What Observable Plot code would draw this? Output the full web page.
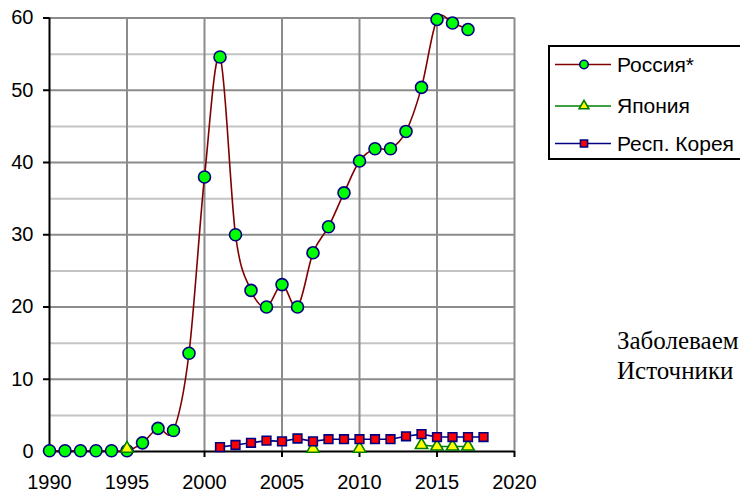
<!DOCTYPE html>
<html><head><meta charset="utf-8">
<script src="https://cdn.jsdelivr.net/npm/d3@7"></script>
<script src="https://cdn.jsdelivr.net/npm/@observablehq/plot@0.6"></script>
<style>
html,body{margin:0;padding:0;background:#fff;overflow:hidden;width:740px;height:494px}
#wrap{position:relative;width:740px;height:494px;overflow:hidden}
#wrap svg{display:block}
#legend{position:absolute;left:548px;top:45px;width:260px;height:115px;border:2px solid #000;background:#fff;box-sizing:border-box}
.note{position:absolute;left:617px;font-family:"Liberation Serif","Times New Roman",serif;font-size:25px;white-space:nowrap;color:#000;line-height:30px}
</style></head><body><div id="wrap"></div>
<script>
const russiaYears = [1990,1991,1992,1993,1994,1995,1996,1997,1998,1999,2000,2001,2002,2003,2004,2005,2006,2007,2008,2009,2010,2011,2012,2013,2014,2015,2016,2017];
const russiaValues = [0.1,0.1,0.1,0.1,0.1,0.1,1.2,3.2,2.9,13.6,38.0,54.6,30.0,22.3,20.0,23.1,20.0,27.5,31.1,35.8,40.2,41.9,41.9,44.3,50.4,59.8,59.3,58.4];
const japanYears = [1995,2007,2010,2014,2015,2016,2017];
const japanValues = [0.4,0.4,0.4,0.9,0.7,0.7,0.7];
const koreaYears = [2001,2002,2003,2004,2005,2006,2007,2008,2009,2010,2011,2012,2013,2014,2015,2016,2017,2018];
const koreaValues = [0.6,0.9,1.2,1.5,1.4,1.8,1.4,1.7,1.7,1.7,1.7,1.7,2.1,2.4,2.0,2.0,2.0,2.0];
const xTicks = [1990,1995,2000,2005,2010,2015,2020];
const yTicks = [0,10,20,30,40,50,60];
const yMinorTicks = [5,15,25,35,45,55];
const seriesNames = ["Россия*","Япония","Респ. Корея"];
const noteLines = ["Заболеваем","Источники"];

const russia = russiaYears.map((year,i)=>({year,value:russiaValues[i]}));
const korea = koreaYears.map((year,i)=>({year,value:koreaValues[i]}));
let seg = 0;
const japan = japanYears.map((year,i)=>{ if(i>0 && year-japanYears[i-1]>1) seg++; return {year,value:japanValues[i],seg}; });

const RED="#800000", NAVY="#000080", GREEN="#008000";
const font = '"Liberation Sans", Arial, sans-serif';

const chart = Plot.plot({
  width:740, height:494,
  marginLeft:49, marginRight:226, marginTop:17.5, marginBottom:43,
  x:{domain:[1990,2020]}, y:{domain:[0,60]},
  style:{fontFamily:font, fontSize:"20px", background:"white", color:"black", overflow:"visible"},
  marks:[
    Plot.ruleY(yMinorTicks,{stroke:"#c4c4c4",strokeWidth:2}),
    Plot.ruleY(yTicks.filter(d=>d>0),{stroke:"#8c8c8c",strokeWidth:2}),
    Plot.ruleX(xTicks.filter(d=>d>1990),{stroke:"#8c8c8c",strokeWidth:2}),
    Plot.axisY({ticks:yTicks,tickSize:6,tickPadding:10,label:null,stroke:"black",strokeWidth:2,fontSize:20}),
    Plot.axisX({ticks:xTicks,tickSize:6,tickPadding:17,tickFormat:"d",label:null,stroke:"black",strokeWidth:2,fontSize:20}),
    Plot.ruleX([1990],{stroke:"black",strokeWidth:2}),
    Plot.ruleY([0],{stroke:"black",strokeWidth:2}),
    Plot.line(russia,{x:"year",y:"value",stroke:RED,strokeWidth:1.6,curve:"cardinal"}),
    Plot.dot(russia,{x:"year",y:"value",r:6,fill:"#00ff00",stroke:NAVY,strokeWidth:1.6}),
    Plot.line(japan,{x:"year",y:"value",z:"seg",stroke:GREEN,strokeWidth:1.6}),
    Plot.dot(japan,{x:"year",y:"value",symbol:"triangle",r:4.6,fill:"#ffff00",stroke:GREEN,strokeWidth:1.6}),
    Plot.line(korea,{x:"year",y:"value",stroke:NAVY,strokeWidth:1.6}),
    Plot.dot(korea,{x:"year",y:"value",symbol:"square",r:4.9,fill:"#ff0000",stroke:NAVY,strokeWidth:1.6})
  ]
});
const wrap = document.getElementById("wrap");
wrap.appendChild(chart);

// legend
const leg = document.createElement("div");
leg.id = "legend";
wrap.appendChild(leg);
const lsvg = d3.select(leg).append("svg").attr("width",256).attr("height",111)
  .style("font-family",font).style("font-size","21px");
const styles = [
  {stroke:RED, sym:d3.symbolCircle, size:Math.PI*4.2*4.2, fill:"#00ff00", sStroke:NAVY},
  {stroke:GREEN, sym:d3.symbolTriangle, size:Math.PI*3.6*3.6, fill:"#ffff00", sStroke:GREEN},
  {stroke:NAVY, sym:d3.symbolSquare, size:Math.PI*4*4, fill:"#ff0000", sStroke:NAVY}
];
const rowY = [17.5, 59, 96.5];
seriesNames.forEach((name,i)=>{
  const g = lsvg.append("g").attr("transform",`translate(0,${rowY[i]})`);
  g.append("line").attr("x1",5).attr("x2",61).attr("y1",0).attr("y2",0)
    .attr("stroke",styles[i].stroke).attr("stroke-width",1.6);
  g.append("path").attr("d",d3.symbol(styles[i].sym,styles[i].size)())
    .attr("transform","translate(34,0)").attr("fill",styles[i].fill)
    .attr("stroke",styles[i].sStroke).attr("stroke-width",1.6);
  g.append("text").attr("x",67).attr("y",0).attr("dy","0.35em").text(name);
});

// note
noteLines.forEach((t,i)=>{
  const d = document.createElement("div");
  d.className="note";
  d.style.top = (326 + i*30) + "px";
  d.textContent = t;
  wrap.appendChild(d);
});
</script></body></html>
